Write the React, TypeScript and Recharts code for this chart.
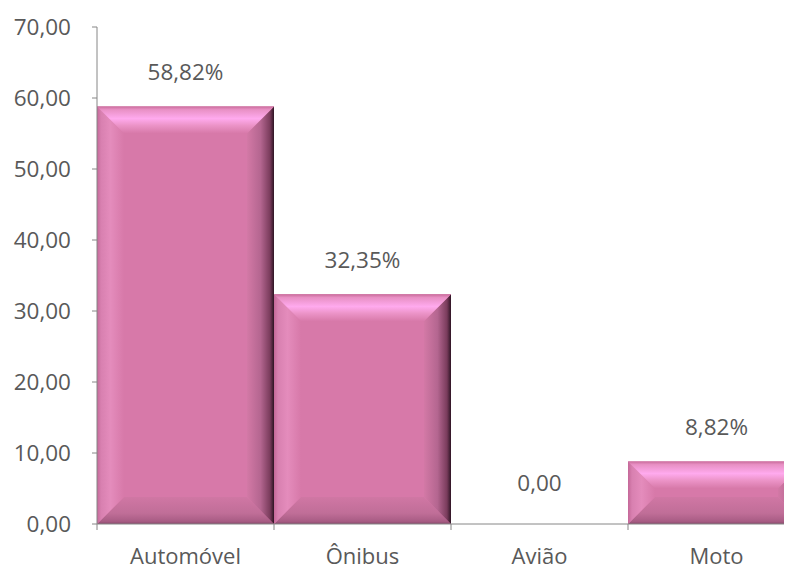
import { BarChart, Bar, XAxis, YAxis, LabelList } from "recharts";

const categories = ["Automóvel", "Ônibus", "Avião", "Moto"];
const values = [58.82, 32.35, 0, 8.82];
const valueLabels = ["58,82%", "32,35%", "0,00", "8,82%"];
const yTicks = [0, 10, 20, 30, 40, 50, 60, 70];

const data = categories.map((name, i) => ({
  name,
  value: values[i],
  label: valueLabels[i],
}));

const CHART_W = 800;
const CHART_H = 560;
const Y_AXIS_W = 89;
const MARGIN_RIGHT = 3;
const HALF_BAND = (CHART_W - Y_AXIS_W - MARGIN_RIGHT) / categories.length / 2;

const FONT = "'Open Sans', sans-serif";
const FONT_SIZE = 22.5;
const TEXT = "#595959";
const AXIS = "#868686";

const fmt = (v: number) => v.toFixed(2).replace(".", ",");

function BevelBar(props: any) {
  const { x, y, width: w, height: h, index } = props;
  if (!h || h <= 0) return null;
  const b = Math.min(27, h / 2, w / 2);
  const id = `bv${index}`;
  return (
    <g>
      <defs>
        <linearGradient id={`${id}t`} x1="0" y1="0" x2="0" y2="1">
          <stop offset="0" stopColor="#c96b9b" />
          <stop offset="0.12" stopColor="#e890c4" />
          <stop offset="0.45" stopColor="#ffaaee" />
          <stop offset="0.7" stopColor="#ec94c8" />
          <stop offset="1" stopColor="#d779a9" />
        </linearGradient>
        <linearGradient id={`${id}l`} x1="0" y1="0" x2="1" y2="0">
          <stop offset="0" stopColor="#c46898" />
          <stop offset="0.15" stopColor="#d880b0" />
          <stop offset="0.5" stopColor="#e48cbc" />
          <stop offset="1" stopColor="#d779a9" />
        </linearGradient>
        <linearGradient id={`${id}r`} x1="0" y1="0" x2="1" y2="0">
          <stop offset="0" stopColor="#d379a6" />
          <stop offset="0.5" stopColor="#b46690" />
          <stop offset="0.85" stopColor="#7a3c5c" />
          <stop offset="1" stopColor="#2e1424" />
        </linearGradient>
        <linearGradient id={`${id}b`} x1="0" y1="0" x2="0" y2="1">
          <stop offset="0" stopColor="#d077a4" />
          <stop offset="0.6" stopColor="#c06e98" />
          <stop offset="0.9" stopColor="#a85c84" />
          <stop offset="1" stopColor="#8a4a6c" />
        </linearGradient>
      </defs>
      <rect x={x} y={y} width={w} height={h} fill="#d779a9" />
      <polygon
        points={`${x},${y + h} ${x + b},${y + h - b} ${x + w - b},${y + h - b} ${x + w},${y + h}`}
        fill={`url(#${id}b)`}
      />
      <polygon
        points={`${x},${y} ${x + b},${y + b} ${x + b},${y + h - b} ${x},${y + h}`}
        fill={`url(#${id}l)`}
      />
      <polygon
        points={`${x + w},${y} ${x + w},${y + h} ${x + w - b},${y + h - b} ${x + w - b},${y + b}`}
        fill={`url(#${id}r)`}
      />
      <polygon
        points={`${x},${y} ${x + w},${y} ${x + w - b},${y + b} ${x + b},${y + b}`}
        fill={`url(#${id}t)`}
      />
    </g>
  );
}

function ValueLabel(props: any) {
  const { x, y, width, index } = props;
  const gap = values[index] === 0 ? 41 : 34;
  return (
    <text
      x={x + width / 2}
      y={y - gap}
      dy="0.35em"
      textAnchor="middle"
      fill={TEXT}
      fontFamily={FONT}
      fontSize={FONT_SIZE}
    >
      {valueLabels[index]}
    </text>
  );
}

function CategoryTick(props: any) {
  const { x, y, payload, index } = props;
  return (
    <g>
      <line x1={x - HALF_BAND} y1={y} x2={x - HALF_BAND} y2={y + 6} stroke={AXIS} />
      {index === categories.length - 1 && (
        <line x1={x + HALF_BAND} y1={y} x2={x + HALF_BAND} y2={y + 6} stroke={AXIS} />
      )}
      <text
        x={x}
        y={y + 32}
        dy="0.35em"
        textAnchor="middle"
        fill={TEXT}
        fontFamily={FONT}
        fontSize={22}
      >
        {payload.value}
      </text>
    </g>
  );
}

export default function App() {
  return (
    <div style={{ width: 784, height: CHART_H, overflow: "hidden", background: "#fff" }}>
      <BarChart
        width={CHART_W}
        height={CHART_H}
        data={data}
        margin={{ top: 19, right: MARGIN_RIGHT, left: 0, bottom: 0 }}
        barCategoryGap={0}
        barGap={0}
      >
        <XAxis
          dataKey="name"
          height={44}
          axisLine={{ stroke: AXIS }}
          tickLine={false}
          tickSize={0}
          tickMargin={0}
          tick={<CategoryTick />}
          interval={0}
        />
        <YAxis
          width={Y_AXIS_W}
          domain={[0, 70]}
          ticks={yTicks}
          interval={0}
          tickFormatter={fmt}
          axisLine={{ stroke: AXIS }}
          tickLine={{ stroke: AXIS }}
          tickSize={5}
          tickMargin={21}
          tick={{ fill: TEXT, fontFamily: FONT, fontSize: FONT_SIZE }}
        />
        <Bar dataKey="value" shape={<BevelBar />} isAnimationActive={false}>
          <LabelList dataKey="label" content={<ValueLabel />} />
        </Bar>
      </BarChart>
    </div>
  );
}
